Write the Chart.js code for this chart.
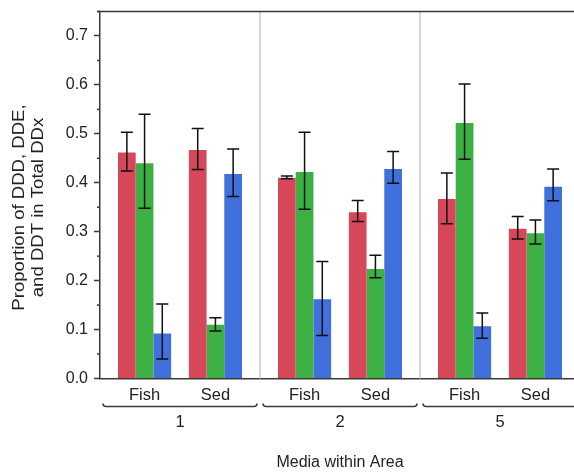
<!DOCTYPE html>
<html>
<head>
<meta charset="utf-8">
<script src="https://cdn.jsdelivr.net/npm/chart.js@4/dist/chart.umd.min.js"></script>
<style>
  html, body { margin: 0; padding: 0; background: #fff; overflow: hidden; }
  #wrap { width: 600px; height: 473px; position: relative; }
</style>
</head>
<body>
<div id="wrap"><canvas id="c"></canvas></div>
<script>
// ---- Data ----
const areas = ['1', '2', '5'];
const media = ['Fish', 'Sed'];
const compounds = ['DDD', 'DDE', 'DDT'];
const yTicks = [0.0, 0.1, 0.2, 0.3, 0.4, 0.5, 0.6, 0.7];

const fishDDD = [0.462, 0.410, 0.367];
const fishDDE = [0.440, 0.422, 0.522];
const fishDDT = [0.092, 0.162, 0.107];
const sedDDD  = [0.467, 0.340, 0.306];
const sedDDE  = [0.110, 0.224, 0.297];
const sedDDT  = [0.418, 0.428, 0.392];

const fishDDDLo = [0.424, 0.408, 0.316], fishDDDHi = [0.503, 0.414, 0.420];
const fishDDELo = [0.348, 0.346, 0.448], fishDDEHi = [0.540, 0.503, 0.602];
const fishDDTLo = [0.040, 0.088, 0.082], fishDDTHi = [0.152, 0.239, 0.134];
const sedDDDLo  = [0.427, 0.321, 0.285], sedDDDHi  = [0.511, 0.364, 0.331];
const sedDDELo  = [0.097, 0.206, 0.275], sedDDEHi  = [0.124, 0.252, 0.324];
const sedDDTLo  = [0.372, 0.399, 0.363], sedDDTHi  = [0.469, 0.464, 0.428];

const xTitle = 'Media within Area';
const yTitle = ['Proportion of DDD, DDE,', 'and DDT in Total DDx'];

// ---- Styles ----
const colors = ['#d64759', '#3cb043', '#4070dc'];
const FONT = '"Liberation Sans", Arial, sans-serif';
const TXT = '#222';
const AXIS = '#3a3a3a';

function ds(label, data, color, lo, hi) {
  return { label, data, backgroundColor: color, borderWidth: 0, errLo: lo, errHi: hi,
           categoryPercentage: 0.775, barPercentage: 1.0 };
}
const datasets = [
  ds('Fish DDD', fishDDD, colors[0], fishDDDLo, fishDDDHi),
  ds('Fish DDE', fishDDE, colors[1], fishDDELo, fishDDEHi),
  ds('Fish DDT', fishDDT, colors[2], fishDDTLo, fishDDTHi),
  { label: 'gap', data: areas.map(() => null), backgroundColor: 'rgba(0,0,0,0)', borderWidth: 0,
    categoryPercentage: 0.775, barPercentage: 1.0 },
  ds('Sed DDD', sedDDD, colors[0], sedDDDLo, sedDDDHi),
  ds('Sed DDE', sedDDE, colors[1], sedDDELo, sedDDEHi),
  ds('Sed DDT', sedDDT, colors[2], sedDDTLo, sedDDTHi),
];

const decor = {
  id: 'decor',
  beforeDatasetsDraw(chart) {
    const ctx = chart.ctx, x = chart.scales.x, a = chart.chartArea;
    const w = (x.right - x.left) / areas.length;
    ctx.save();
    ctx.strokeStyle = '#c8c8c8';
    ctx.lineWidth = 1.5;
    for (let i = 1; i < areas.length; i++) {
      const px = x.left + w * i;
      ctx.beginPath(); ctx.moveTo(px, a.top); ctx.lineTo(px, a.bottom); ctx.stroke();
    }
    ctx.restore();
  },
  afterDatasetsDraw(chart) {
    const ctx = chart.ctx, y = chart.scales.y;
    ctx.save();
    ctx.strokeStyle = '#111';
    ctx.lineWidth = 1.5;
    chart.data.datasets.forEach((d, di) => {
      if (!d.errLo) return;
      const meta = chart.getDatasetMeta(di);
      meta.data.forEach((bar, i) => {
        const yl = y.getPixelForValue(d.errLo[i]);
        const yh = y.getPixelForValue(d.errHi[i]);
        const cx = bar.x, hw = 6;
        ctx.beginPath();
        ctx.moveTo(cx, yl); ctx.lineTo(cx, yh);
        ctx.moveTo(cx - hw, yl); ctx.lineTo(cx + hw, yl);
        ctx.moveTo(cx - hw, yh); ctx.lineTo(cx + hw, yh);
        ctx.stroke();
      });
    });
    ctx.restore();
  },
  afterDraw(chart) {
    const ctx = chart.ctx, x = chart.scales.x, y = chart.scales.y, a = chart.chartArea;
    const w = (x.right - x.left) / areas.length;
    ctx.save();
    // top border
    ctx.strokeStyle = AXIS; ctx.lineWidth = 1.5;
    ctx.beginPath(); ctx.moveTo(a.left - 3, a.top); ctx.lineTo(a.right + 30, a.top); ctx.stroke();
    // minor ticks
    for (let k = 0; k < yTicks.length; k++) {
      const py = y.getPixelForValue(yTicks[k] + 0.05);
      ctx.beginPath(); ctx.moveTo(a.left - 3, py); ctx.lineTo(a.left, py); ctx.stroke();
    }
    // media labels
    ctx.fillStyle = TXT;
    ctx.font = '16.5px ' + FONT;
    ctx.textAlign = 'center';
    ctx.textBaseline = 'middle';
    const fishMeta = chart.getDatasetMeta(1), sedMeta = chart.getDatasetMeta(5);
    areas.forEach((ar, i) => {
      ctx.fillText(media[0], fishMeta.data[i].x, 395);
      ctx.fillText(media[1], sedMeta.data[i].x, 395);
      // bracket
      const l = x.left + w * i + 3, r = x.left + w * (i + 1) - 3, by = 406.5;
      ctx.strokeStyle = AXIS; ctx.lineWidth = 1.5;
      ctx.beginPath();
      ctx.moveTo(l, by - 3); ctx.quadraticCurveTo(l, by, l + 3, by);
      ctx.lineTo(r - 3, by); ctx.quadraticCurveTo(r, by, r, by - 3);
      ctx.stroke();
      ctx.fillText(ar, x.getPixelForValue(i), 422);
    });
    // x title
    ctx.font = '16px ' + FONT;
    ctx.fillText(xTitle, (a.left + a.right) / 2, 463);
    // y title (text is stretched along its length in the reference)
    ctx.translate(29.5, 207.5);
    ctx.rotate(-Math.PI / 2);
    ctx.scale(1.16, 1);
    ctx.fillText(yTitle[0], 0, -9.5);
    ctx.fillText(yTitle[1], 0, 9.5);
    ctx.restore();
  }
};

new Chart(document.getElementById('c'), {
  type: 'bar',
  data: { labels: areas, datasets },
  options: {
    responsive: true,
    maintainAspectRatio: false,
    animation: false,
    layout: { padding: { top: 11.5, right: 20, bottom: 94.5, left: 0 } },
    plugins: { legend: { display: false }, tooltip: { enabled: false } },
    scales: {
      x: {
        afterFit(s) { s.height = 0; s.paddingLeft = 0; s.paddingRight = 0; },
        grid: { display: false },
        ticks: { display: false },
        border: { display: true, color: AXIS, width: 1.5 }
      },
      y: {
        min: 0, max: 0.75,
        afterFit(s) { s.width = 100; s.paddingTop = 0; s.paddingBottom = 0; },
        ticks: {
          stepSize: 0.1, includeBounds: false, padding: 6,
          color: TXT, font: { family: FONT, size: 16 },
          callback: v => v.toFixed(1)
        },
        grid: { display: true, drawOnChartArea: false, tickLength: 6, tickColor: AXIS, tickWidth: 1.5 },
        border: { display: true, color: AXIS, width: 1.5 }
      }
    }
  },
  plugins: [decor]
});
</script>
</body>
</html>
